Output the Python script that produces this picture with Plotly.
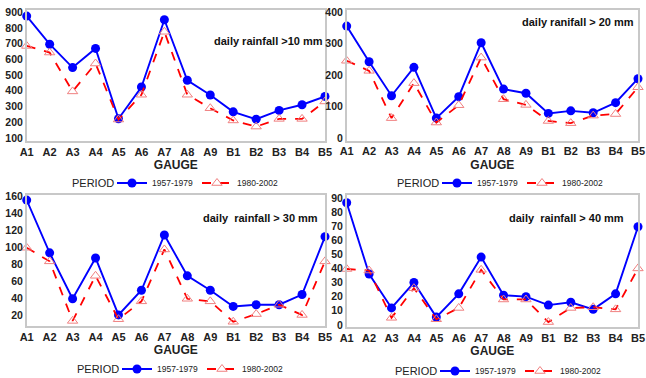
import plotly.graph_objects as go

gauges = ["A1","A2","A3","A4","A5","A6","A7","A8","A9","B1","B2","B3","B4","B5"]

p1_5779 = [876, 697, 548, 670, 222, 424, 853, 467, 373, 266, 219, 275, 311, 364]
p1_8002 = [686, 644, 396, 574, 217, 375, 776, 375, 289, 211, 172, 221, 221, 332]

p2_5779 = [356, 243, 135, 225, 64, 132, 303, 156, 143, 79, 87, 81, 113, 189]
p2_8002 = [246, 214, 64, 175, 50, 105, 256, 124, 106, 55, 48, 72, 77, 162]

p3_5779 = [156, 94, 40, 88, 21, 50, 115, 67, 50, 31, 33, 33, 45, 113]
p3_8002 = [100, 84, 14, 67, 16, 37, 98, 40, 37, 13, 22, 33, 21, 84]

p4_5779 = [86.5, 36, 12, 30, 5.5, 22, 48, 21, 20, 14, 16, 11, 22, 69.5]
p4_8002 = [39.6, 38.5, 5, 26, 4, 12, 39, 18, 18, 2, 12, 12.5, 11, 40]

titles = ["daily rainfall >10 mm", "daily ranifall > 20 mm",
          "daily  rainfall > 30 mm", "daily  rainfall > 40 mm"]
periods = ["1957-1979", "1980-2002"]
legend_title = "PERIOD"

W, H = 646, 378
def px(x): return x / W
def py(y): return 1 - y / H

panels = [
    dict(a=p1_5779, b=p1_8002, x0=26.7, x1=325, y0=10, y1=141, rng=[80, 915], dt=100, t0=100,
         ann=(268, 41), leg=(70, 183)),
    dict(a=p2_5779, b=p2_8002, x0=346.7, x1=638, y0=10, y1=140.5, rng=[-7, 407], dt=100, t0=0,
         ann=(578, 22), leg=(395, 183)),
    dict(a=p3_5779, b=p3_8002, x0=26.7, x1=325, y0=195, y1=326, rng=[8, 162], dt=20, t0=20,
         ann=(260, 218), leg=(75, 369)),
    dict(a=p4_5779, b=p4_8002, x0=346.7, x1=638, y0=195, y1=327, rng=[-1.5, 92], dt=10, t0=0,
         ann=(566, 218), leg=(393, 371)),
]

fig = go.Figure()
layout = dict(width=W, height=H, margin=dict(l=0, r=0, t=0, b=0, autoexpand=False),
              paper_bgcolor="white", plot_bgcolor="white",
              font=dict(family="Liberation Sans, Arial, sans-serif", color="#222"),
              annotations=[])

for i, p in enumerate(panels):
    n = "" if i == 0 else str(i + 1)
    leg = "legend" + n
    fig.add_trace(go.Scatter(
        x=gauges, y=p["a"], xaxis="x" + n, yaxis="y" + n, name=periods[0], legend=leg,
        mode="lines+markers", line=dict(color="#0000ff", width=1.9),
        marker=dict(symbol="circle", size=9, color="#0000ff"), cliponaxis=False))
    fig.add_trace(go.Scatter(
        x=gauges, y=p["b"], xaxis="x" + n, yaxis="y" + n, name=periods[1], legend=leg,
        mode="lines+markers", line=dict(color="#ff0000", width=1.8, dash="dash"),
        marker=dict(symbol="triangle-up-open", size=9, color="#f08080", line=dict(width=1)),
        cliponaxis=False))
    layout["xaxis" + n] = dict(
        domain=[px(p["x0"]), px(p["x1"])], anchor="y" + n, type="category",
        range=[0, 13], showgrid=False, zeroline=False, showline=True, mirror=True,
        linecolor="#c8c8c8", linewidth=1.5, ticks="", ticklen=0, automargin=False,
        tickfont=dict(size=11, family="Liberation Sans, Arial", color="#222", weight="bold"),
        title=dict(text="<b>GAUGE</b>", font=dict(size=12), standoff=4))
    layout["yaxis" + n] = dict(
        domain=[py(p["y1"]), py(p["y0"])], anchor="x" + n, range=p["rng"],
        tick0=p["t0"], dtick=p["dt"], showgrid=False, zeroline=False, showline=True,
        mirror=True, linecolor="#c8c8c8", linewidth=1.5, ticks="", automargin=False,
        tickfont=dict(size=10.5, family="Liberation Sans, Arial", color="#222", weight="bold"))
    lx, ly = p["leg"]
    layout[leg] = dict(
        x=px(lx + 42), y=py(ly), xanchor="left", yanchor="middle",
        orientation="h", bgcolor="rgba(0,0,0,0)",
        font=dict(size=8.5, color="#222"), itemwidth=30, tracegroupgap=0,
        entrywidth=40, entrywidthmode="pixels")
    layout["annotations"].append(dict(
        x=px(lx), y=py(ly), xref="paper", yref="paper", text=legend_title,
        showarrow=False, font=dict(size=11, color="#222"), xanchor="left", yanchor="middle"))
    layout["annotations"].append(dict(
        x=px(p["ann"][0]), y=py(p["ann"][1]), xref="paper", yref="paper",
        text="<b>" + titles[i] + "</b>", showarrow=False,
        font=dict(size=11, color="#111"), xanchor="center", yanchor="middle"))

fig.update_layout(**layout)
fig.write_html("out.html", post_script="document.body.style.margin='0';",
               config={"displayModeBar": False})
